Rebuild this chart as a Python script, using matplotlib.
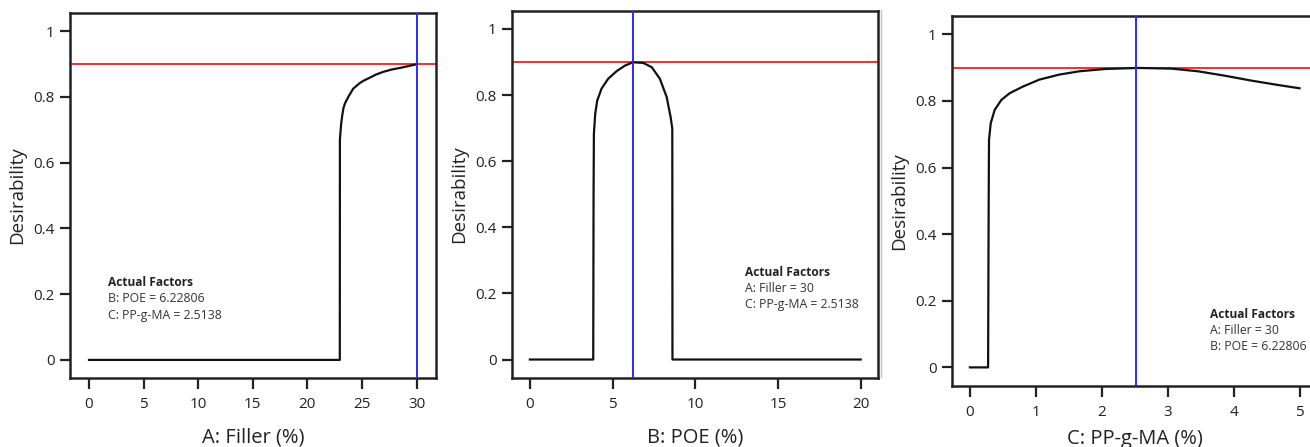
import matplotlib
matplotlib.use("Agg")
import matplotlib.pyplot as plt
from matplotlib.lines import Line2D

plt.rcParams['font.family'] = ['Open Sans', 'DejaVu Sans']

# ---- data ----
filler_x = [0, 22.97, 22.98, 23.05, 23.1, 23.2, 23.3, 23.44, 23.75, 24.2, 24.8, 25.2, 25.7, 26.3, 26.95, 27.7, 28.5, 29.3, 30.0]
filler_y = [0, 0, 0.67, 0.70, 0.72, 0.745, 0.765, 0.78, 0.80, 0.825, 0.842, 0.85, 0.858, 0.868, 0.876, 0.883, 0.888, 0.894, 0.899]

poe_x = [0, 3.83, 3.85, 3.87, 3.95, 4.07, 4.33, 4.73, 5.24, 5.75, 6.23, 6.86, 7.37, 7.86, 8.27, 8.51, 8.61, 8.62, 20]
poe_y = [0, 0, 0.5, 0.683, 0.743, 0.783, 0.819, 0.849, 0.872, 0.889, 0.899, 0.897, 0.884, 0.849, 0.794, 0.733, 0.698, 0, 0]

ppgma_x = [0, 0.276, 0.285, 0.29, 0.316, 0.376, 0.477, 0.602, 0.803, 1.054, 1.355, 1.66, 2.06, 2.55, 3.06, 3.46, 3.86, 4.27, 4.67, 5.0]
ppgma_y = [0, 0, 0.5, 0.683, 0.733, 0.773, 0.803, 0.823, 0.843, 0.864, 0.879, 0.889, 0.896, 0.899, 0.897, 0.889, 0.876, 0.861, 0.848, 0.838]

opt_desirability = 0.899
opt_filler = 30
opt_poe = 6.22806
opt_ppgma = 2.5138

x_labels = ["A: Filler (%)", "B: POE (%)", "C: PP-g-MA (%)"]
x_ticks = [[0, 5, 10, 15, 20, 25, 30], [0, 5, 10, 15, 20], [0, 1, 2, 3, 4, 5]]
y_ticks = [0, 0.2, 0.4, 0.6, 0.8, 1]
y_ticklabels = ["0", "0.2", "0.4", "0.6", "0.8", "1"]
annotations = [
    ["B: POE = 6.22806", "C: PP-g-MA = 2.5138"],
    ["A: Filler = 30", "C: PP-g-MA = 2.5138"],
    ["A: Filler = 30", "B: POE = 6.22806"],
]

W, H = 1310, 447
fig = plt.figure(figsize=(W / 100, H / 100), dpi=100)

def ax_px(left, top, right, bottom):
    return fig.add_axes([left / W, 1 - bottom / H, (right - left) / W, (bottom - top) / H])

boxes = [(70, 13, 436, 378), (511.7, 10.7, 877.7, 377.7), (951.7, 16, 1317.7, 385.7)]
xlims = [(-1.74, 31.78), (-1.1, 21.03), (-0.276, 5.276)]
series = [(filler_x, filler_y, opt_filler), (poe_x, poe_y, opt_poe), (ppgma_x, ppgma_y, opt_ppgma)]
ann_pos = [(108, 283), (745, 272.7), (1210, 314)]
xlabel_y_px = [437, 437, 439]

for i in range(3):
    left, top, right, bottom = boxes[i]
    ax = ax_px(*boxes[i])
    xs, ys, opt = series[i]
    ax.plot(xs, ys, color='#111111', lw=1.6, solid_joinstyle='round', zorder=3)
    ax.axhline(opt_desirability, color='#ff1a1a', lw=1.3, zorder=2)
    ax.axvline(opt, color='#2b2bff', lw=1.4, zorder=4)
    ax.set_xlim(*xlims[i])
    ax.set_ylim(-0.055, 1.055)
    ax.set_xticks(x_ticks[i])
    ax.set_xticklabels([str(t) for t in x_ticks[i]])
    ax.set_yticks(y_ticks)
    ax.set_yticklabels(y_ticklabels)
    for s in ax.spines.values():
        s.set_linewidth(1.8)
        s.set_color('#222222')
    ax.tick_params(axis='both', direction='out', length=7, width=1.6, color='#222222',
                   labelsize=11, labelcolor='#222222')
    ax.tick_params(axis='x', length=8, pad=6)
    ax.tick_params(axis='y', pad=4)
    ax.set_xlabel(x_labels[i], fontsize=14.5, color='#222222', va='center')
    ax.xaxis.set_label_coords(0.5, (bottom - xlabel_y_px[i]) / (bottom - top))
    ax.set_ylabel("Desirability", fontsize=13.5, color='#222222', va='center')
    ax.yaxis.set_label_coords(-53 / (right - left), 0.5)

    lx, ly = ann_pos[i]
    fig.text(lx / W, 1 - ly / H, "Actual Factors", fontsize=8.6, fontweight='bold',
             color='#222222', va='center', ha='left')
    for j, t in enumerate(annotations[i]):
        fig.text(lx / W, 1 - (ly + 16 * (j + 1)) / H, t, fontsize=8.8,
                 color='#333333', va='center', ha='left')

# thin gray separator seen at the left edge of the third panel image
fig.add_artist(Line2D([880.5 / W, 880.5 / W], [1 - 10 / H, 1 - 377 / H],
                      transform=fig.transFigure, color='#c0c0c0', lw=1))

fig.savefig("out.png", dpi=100)
